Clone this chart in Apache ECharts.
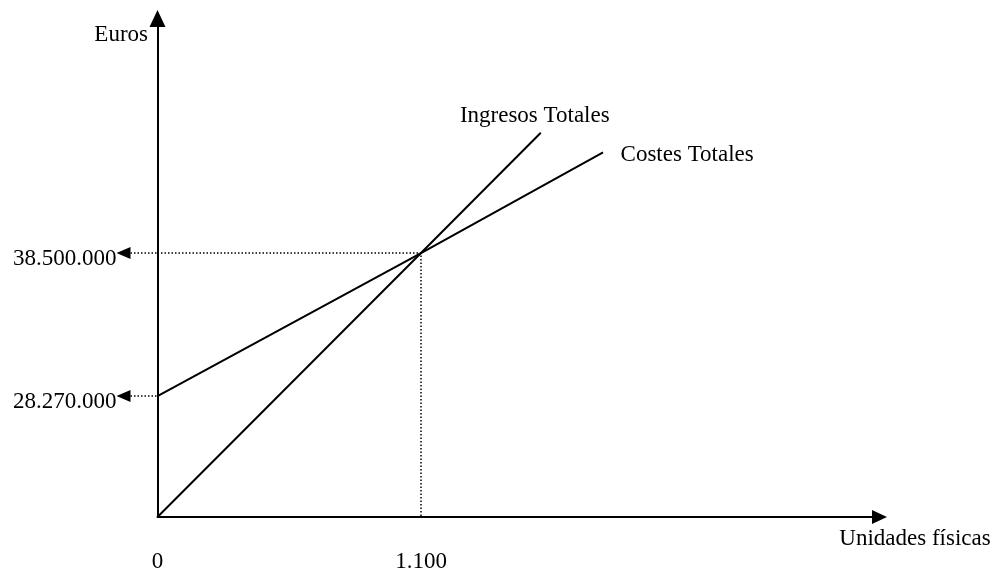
<!DOCTYPE html>
<html>
<head>
<meta charset="utf-8">
<script src="https://cdn.jsdelivr.net/npm/echarts@6/dist/echarts.min.js"></script>
<style>
html,body{margin:0;padding:0;background:#fff;}
#main{width:1001px;height:568px;}
</style>
</head>
<body>
<div id="main"></div>
<script>
// ---- data ----
const seriesNames = ['Ingresos Totales', 'Costes Totales'];
const revenueUnits = [0, 1100, 1600];
const revenueEuros = [0, 38500000, 47100000];
const costUnits = [0, 1100, 1860];
const costEuros = [28270000, 38500000, 45700000];
const breakEvenUnits = 1100;
const breakEvenEuros = 38500000;
const fixedCosts = 28270000;
const xTicks = [0, 1100];
const yTicks = [28270000, 38500000];
const xAxisName = 'Unidades físicas';
const yAxisName = 'Euros';

// ---- presentation ----
const FONT = 'Liberation Serif';
const FS = 23;
function fmt(v) {
  return String(Math.round(v)).replace(/\B(?=(\d{3})+(?!\d))/g, '.');
}
function pairs(xs, ys) { return xs.map((x, i) => [x, ys[i]]); }

const yScale = {
  type: 'value', min: 0, max: 55276000,
  breaks: [{ start: 1000000, end: 20615000, gap: 0 }],
  breakArea: { show: false }
};

function lineData(xs, ys, labelOpt) {
  return pairs(xs, ys).map((p, i) => {
    const item = { value: p };
    if (i === xs.length - 1) item.label = Object.assign({ show: true }, labelOpt);
    return item;
  });
}

const txt = { fontFamily: FONT, fontSize: FS, color: '#000' };

const chart = echarts.init(document.getElementById('main'), null, { renderer: 'canvas' });
chart.setOption({
  animation: false,
  backgroundColor: '#fff',
  textStyle: { fontFamily: FONT, color: '#000' },
  grid: [
    { left: 157.5, right: 121.5, top: 18.5, bottom: 51, outerBoundsMode: 'none' },
    { left: 123.5, width: 34, top: 18.5, bottom: 51, outerBoundsMode: 'none' }
  ],
  xAxis: [
    {
      gridIndex: 0, type: 'value', min: 0, max: 3014,
      name: '{n|' + xAxisName + '}', nameLocation: 'end', nameGap: 35.5,
      nameTextStyle: Object.assign({}, txt, { align: 'center', verticalAlign: 'middle',
        rich: { n: Object.assign({}, txt, { padding: [44, 0, 0, 0] }) } }),
      axisLine: { show: true, onZero: true, symbol: ['none', 'triangle'], symbolSize: [14, 15], lineStyle: { color: '#000', width: 2 } },
      axisTick: { show: false },
      splitLine: { show: false },
      axisLabel: Object.assign({ customValues: xTicks, formatter: fmt, margin: 33 }, txt)
    },
    { gridIndex: 1, type: 'value', min: 0, max: 1, show: false }
  ],
  yAxis: [
    Object.assign({}, yScale, {
      gridIndex: 0,
      name: yAxisName, nameLocation: 'end', nameGap: 0,
      nameTextStyle: Object.assign({}, txt, { align: 'right', verticalAlign: 'top', padding: [5, 9.5, 0, 0] }),
      axisLine: { show: true, onZero: true, symbol: ['none', 'triangle'], symbolSize: [16, 17], lineStyle: { color: '#000', width: 2 } },
      axisTick: { show: false },
      splitLine: { show: false },
      axisLabel: Object.assign({
        customValues: yTicks, margin: 41,
        formatter: v => '{t|' + fmt(v) + '}',
        rich: { t: Object.assign({}, txt, { padding: [12, 0, 0, 0] }) }
      }, txt)
    }),
    Object.assign({}, yScale, { gridIndex: 1, show: false })
  ],
  series: [
    {
      name: seriesNames[0], type: 'line', xAxisIndex: 0, yAxisIndex: 0,
      data: lineData(revenueUnits, revenueEuros, Object.assign({
        position: 'top', distance: 5, offset: [-6, 0], formatter: seriesNames[0]
      }, txt)),
      symbol: 'circle', symbolSize: 1, showSymbol: true,
      itemStyle: { color: 'rgba(0,0,0,0)', borderWidth: 0 },
      lineStyle: { color: '#000', width: 2 }, silent: true, z: 5
    },
    {
      name: seriesNames[1], type: 'line', xAxisIndex: 0, yAxisIndex: 0,
      data: lineData(costUnits, costEuros, Object.assign({
        position: 'right', distance: 17, offset: [0, 3], formatter: seriesNames[1]
      }, txt)),
      symbol: 'circle', symbolSize: 1, showSymbol: true,
      itemStyle: { color: 'rgba(0,0,0,0)', borderWidth: 0 },
      lineStyle: { color: '#000', width: 2 }, silent: true, z: 5
    },
    {
      name: 'guide', type: 'line', xAxisIndex: 0, yAxisIndex: 0,
      data: [[0, breakEvenEuros], [breakEvenUnits, breakEvenEuros], [breakEvenUnits, 0]],
      symbol: 'none', silent: true, z: 3,
      lineStyle: { color: '#000', width: 1.5, type: [1.5, 2] }
    },
    {
      name: 'arrowBE', type: 'line', xAxisIndex: 1, yAxisIndex: 1,
      data: [{ value: [0, breakEvenEuros], symbol: 'triangle', symbolRotate: 90, symbolSize: [12, 14] }, { value: [1, breakEvenEuros], symbol: 'none' }],
      showSymbol: true, silent: true,
      itemStyle: { color: '#000' },
      lineStyle: { color: '#000', width: 1.5, type: [1.5, 2] }
    },
    {
      name: 'arrowFC', type: 'line', xAxisIndex: 1, yAxisIndex: 1,
      data: [{ value: [0, fixedCosts], symbol: 'triangle', symbolRotate: 90, symbolSize: [12, 14] }, { value: [1, fixedCosts], symbol: 'none' }],
      showSymbol: true, silent: true,
      itemStyle: { color: '#000' },
      lineStyle: { color: '#000', width: 1.5, type: [1.5, 2] }
    }
  ]
});
</script>
</body>
</html>
